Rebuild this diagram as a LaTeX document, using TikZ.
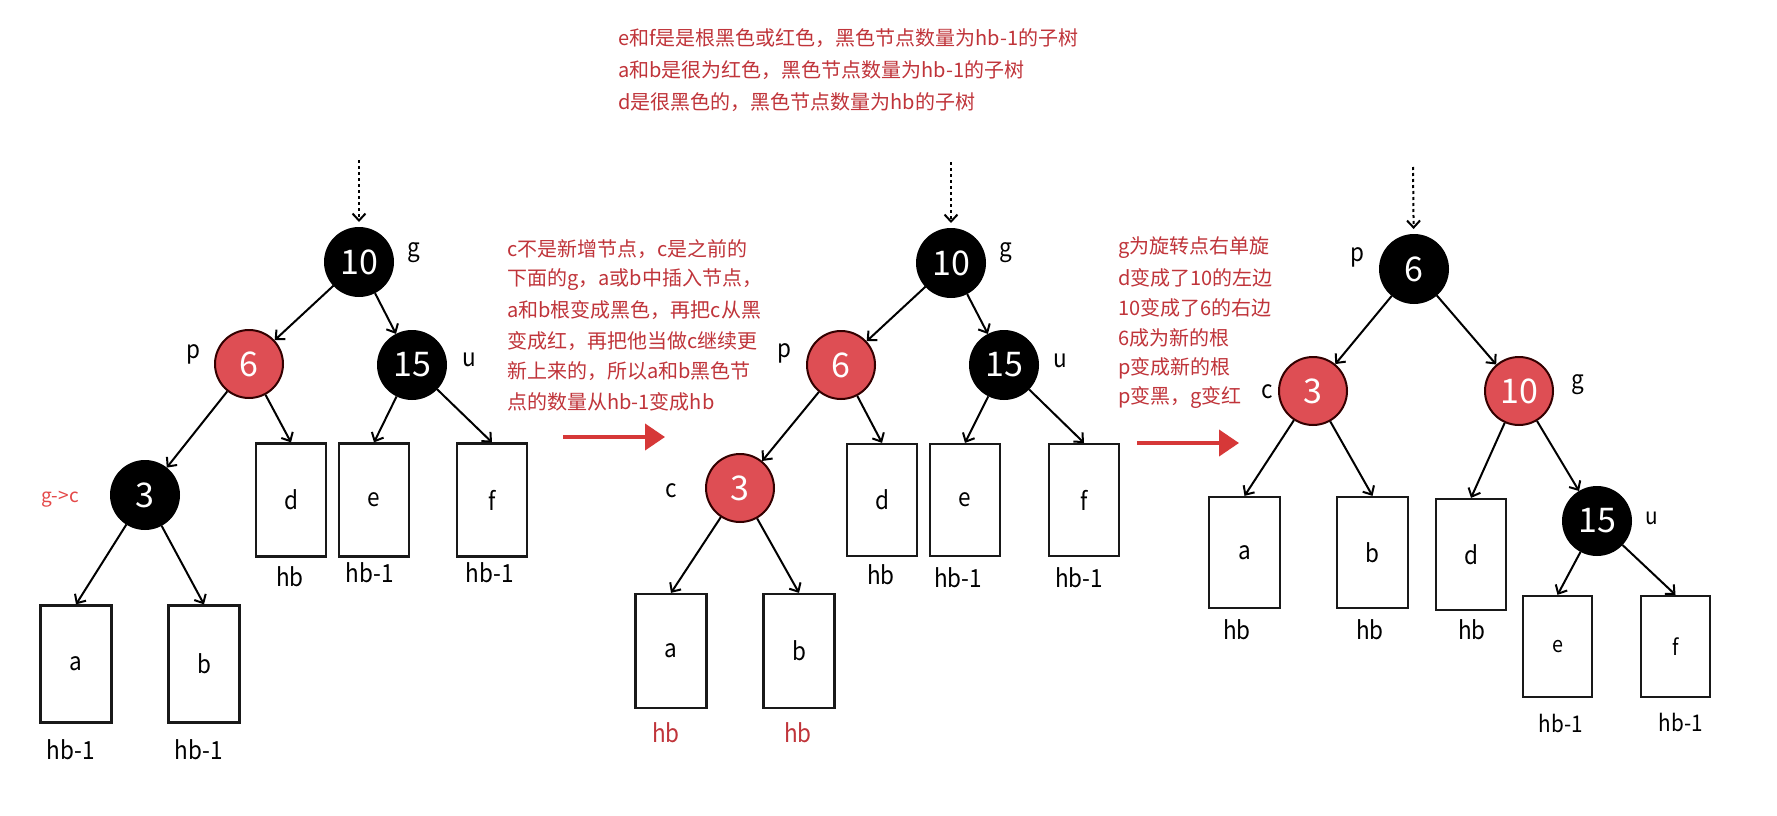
\documentclass[tikz,border=0pt]{standalone}
\usepackage{fontspec}
\usetikzlibrary{arrows.meta}
\setmainfont{Noto Sans CJK SC}
\newfontfamily\labfont[FakeStretch=0.9]{Noto Sans CJK SC}
\definecolor{txtred}{RGB}{192,52,58}
\definecolor{nodered}{RGB}{222,78,84}
\definecolor{arrred}{RGB}{214,56,56}
\definecolor{gcred}{RGB}{228,72,72}
\tikzset{
  rbnode/.style={circle, minimum size=68pt, inner sep=0pt, line width=2pt, text=white, font=\fontsize{34}{34}\selectfont},
  blk/.style={rbnode, draw=black, fill=black},
  rd/.style={rbnode, draw=black!80!red, fill=nodered},
  sub/.style={draw=black!90, line width=2.2pt, minimum width=70pt, minimum height=113pt, inner sep=0pt, font=\labfont\fontsize{25}{25}\selectfont},
  lab/.style={inner sep=0pt, font=\labfont\fontsize{25}{25}\selectfont},
  smlab/.style={inner sep=0pt, font=\labfont\fontsize{23}{23}\selectfont},
  note/.style={anchor=west, inner sep=0pt, text=txtred, font=\fontsize{20}{20}\selectfont},
  link/.style={line width=2pt, -{Straight Barb[length=7pt,width=13pt]}},
  dotlink/.style={line width=2pt, dash pattern=on 3pt off 3pt, shorten >=5pt, -{Straight Barb[length=7pt,width=13pt]}},
  bigarrow/.style={line width=4pt, draw=arrred, -{Triangle[length=20pt,width=26pt]}}
}
\begin{document}
\begin{tikzpicture}[x=1pt,y=-1pt]
\fill[white] (0,0) rectangle (1777,816);
\useasboundingbox (0,0) rectangle (1777,816);

% ---------- top notes ----------
\node[note] (t1) at (618,38) {e和f是是根黑色或红色，黑色节点数量为hb-1的子树};
\node[note] (t2) at (618,70) {a和b是很为红色，黑色节点数量为hb-1的子树};
\node[note] (t3) at (618,102) {d是很黑色的，黑色节点数量为hb的子树};

% ---------- middle notes ----------
\node[note] (m1) at (507,249) {c不是新增节点，c是之前的};
\node[note] (m2) at (507,279.6) {下面的g，a或b中插入节点，};
\node[note] (m3) at (507,310.2) {a和b根变成黑色，再把c从黑};
\node[note] (m4) at (507,340.8) {变成红，再把他当做c继续更};
\node[note] (m5) at (507,371.4) {新上来的，所以a和b黑色节};
\node[note] (m6) at (507,402) {点的数量从hb-1变成hb};

% ---------- right notes ----------
\node[note] (r1) at (1118,248) {g为旋转点右单旋};
\node[note] (r2) at (1118,278) {d变成了10的左边};
\node[note] (r3) at (1118,308) {10变成了6的右边};
\node[note] (r4) at (1118,338) {6成为新的根};
\node[note] (r5) at (1118,368) {p变成新的根};
\node[note] (r6) at (1118,398) {p变黑，g变红};

% ---------- big arrows ----------
\coordinate (ra1s) at (563,437);
\coordinate (ra1e) at (665,437);
\coordinate (ra2s) at (1137,443);
\coordinate (ra2e) at (1239,443);
\draw[bigarrow] (ra1s) -- (ra1e);
\draw[bigarrow] (ra2s) -- (ra2e);

% ================= tree 1 =================
\node[blk] (g1) at (359,262) {10};
\node[rd]  (p1) at (249,364) {6};
\node[blk] (u1) at (412,365) {15};
\node[blk] (c1) at (145,495) {3};
\node[sub] (d1) at (291,500) {d};
\node[sub] (e1) at (374,500) {e};
\node[sub] (f1) at (492,500) {f};
\node[sub, minimum width=71pt, minimum height=117pt] (a1) at (76,664) {a};
\node[sub, minimum width=71pt, minimum height=117pt] (b1) at (204,664) {b};
\coordinate (top1) at (359,160);
\draw[dotlink] (top1) -- (g1);
\draw[link] (g1) -- (p1);
\draw[link] (g1) -- (u1);
\draw[link] (p1) -- (c1);
\draw[link] (p1) -- (d1.north);
\draw[link] (u1) -- (e1.north);
\draw[link] (u1) -- (f1.north);
\draw[link] (c1) -- (a1.north);
\draw[link] (c1) -- (b1.north);
\node[lab] (lg1) at (414,253) {g};
\node[lab] (lp1) at (193,354) {p};
\node[lab] (lu1) at (469,360) {u};
\node[inner sep=0pt, text=gcred, font=\fontsize{19}{19}\selectfont] (lgc1) at (60,499) {g->c};
\node[lab] (hd1) at (290,577) {hb};
\node[lab] (he1) at (370,573) {hb-1};
\node[lab] (hf1) at (490,573) {hb-1};
\node[lab] (ha1) at (71,750) {hb-1};
\node[lab] (hb1) at (199,750) {hb-1};

% ================= tree 2 =================
\node[blk] (g2) at (951,263) {10};
\node[rd]  (p2) at (841,365) {6};
\node[blk] (u2) at (1004,365) {15};
\node[rd]  (c2) at (740,488) {3};
\node[sub, minimum height=112pt] (d2) at (882,500) {d};
\node[sub, minimum height=112pt] (e2) at (965,500) {e};
\node[sub, minimum height=112pt] (f2) at (1084,500) {f};
\node[sub, minimum width=71pt, minimum height=114pt] (a2) at (671,651) {a};
\node[sub, minimum width=71pt, minimum height=114pt] (b2) at (799,651) {b};
\coordinate (top2) at (951,162);
\draw[dotlink] (top2) -- (g2);
\draw[link] (g2) -- (p2);
\draw[link] (g2) -- (u2);
\draw[link] (p2) -- (c2);
\draw[link] (p2) -- (d2.north);
\draw[link] (u2) -- (e2.north);
\draw[link] (u2) -- (f2.north);
\draw[link] (c2) -- (a2.north);
\draw[link] (c2) -- (b2.north);
\node[lab] (lg2) at (1006,253) {g};
\node[lab] (lp2) at (784,353) {p};
\node[lab] (lu2) at (1060,361) {u};
\node[lab] (lc2) at (671,491) {c};
\node[lab] (hd2) at (881,575) {hb};
\node[lab] (he2) at (958,578) {hb-1};
\node[lab] (hf2) at (1079,578) {hb-1};
\node[lab, text=txtred] (ha2) at (666,733) {hb};
\node[lab, text=txtred] (hb2) at (798,733) {hb};

% ================= tree 3 =================
\node[blk] (p3) at (1414,269) {6};
\node[rd]  (c3) at (1313,391) {3};
\node[rd]  (g3) at (1519,391) {10};
\node[blk] (u3) at (1597,521) {15};
\node[sub, minimum width=71pt, minimum height=111pt] (a3) at (1244.5,552.5) {a};
\node[sub, minimum width=71pt, minimum height=111pt] (b3) at (1372.5,552.5) {b};
\node[sub, minimum height=111pt] (d3) at (1471,554.5) {d};
\node[sub, minimum width=69pt, minimum height=101pt, font=\labfont\fontsize{22}{22}\selectfont] (e3) at (1557.5,646.5) {e};
\node[sub, minimum width=69pt, minimum height=101pt, font=\labfont\fontsize{22}{22}\selectfont] (f3) at (1675.5,646.5) {f};
\coordinate (top3) at (1413,167);
\draw[dotlink] (top3) -- (p3);
\draw[link] (p3) -- (c3);
\draw[link] (p3) -- (g3);
\draw[link] (c3) -- (a3.north);
\draw[link] (c3) -- (b3.north);
\draw[link] (g3) -- (d3.north);
\draw[link] (g3) -- (u3);
\draw[link] (u3) -- (e3.north);
\draw[link] (u3) -- (f3.north);
\node[lab] (lp3) at (1357,257) {p};
\node[lab] (lc3) at (1267,392) {c};
\node[lab] (lg3) at (1578,385) {g};
\node[smlab] (lu3) at (1652,518) {u};
\node[lab] (ha3) at (1237,630) {hb};
\node[lab] (hb3) at (1370,630) {hb};
\node[lab] (hd3) at (1472,630) {hb};
\node[smlab] (he3) at (1561,723) {hb-1};
\node[smlab] (hf3) at (1681,722) {hb-1};
\end{tikzpicture}
\end{document}
